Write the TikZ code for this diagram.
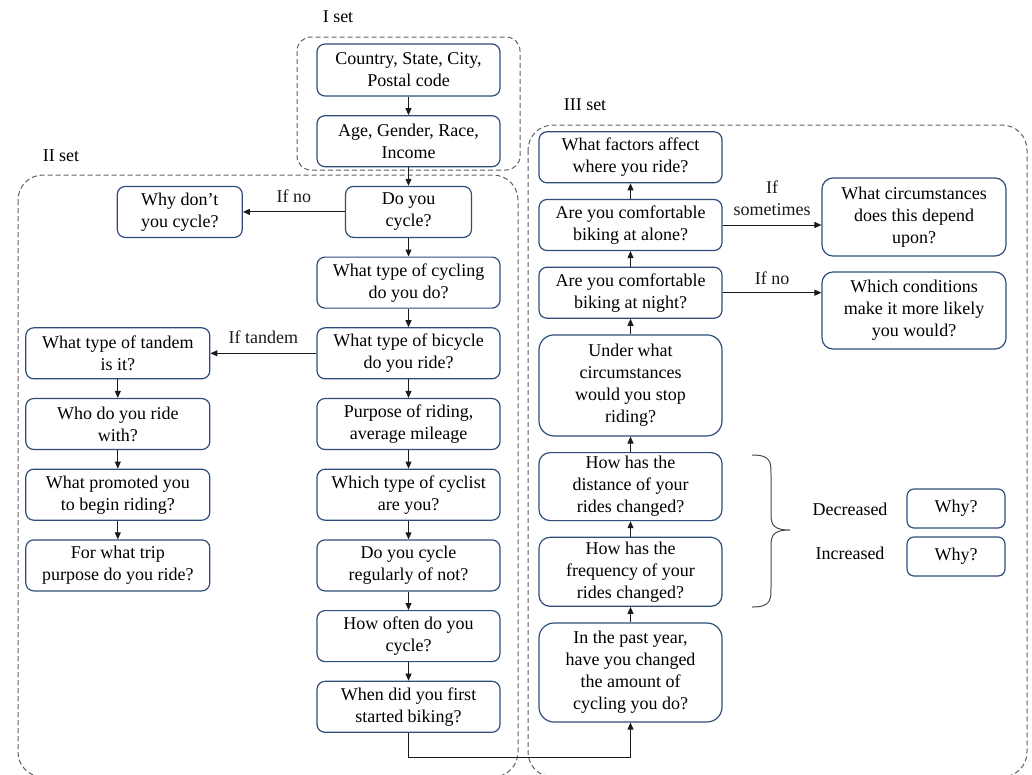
\documentclass[tikz,border=0pt]{standalone}
\usepackage{fontspec}
\setmainfont{Liberation Serif}
\usetikzlibrary{arrows.meta, positioning}
\definecolor{BoxColor}{HTML}{2E4D7B}
\definecolor{SetColor}{HTML}{5F5F5F}
\definecolor{LineColor}{HTML}{1A1A1A}

\begin{document}
\begin{tikzpicture}[
    x=1pt, y=-1pt,
    node distance=18.5pt and 100pt,
    q/.style={rectangle, draw=BoxColor, line width=1.2pt, rounded corners=8pt, minimum width=183pt, minimum height=51pt, align=center, inner sep=2pt, font=\fontsize{18}{22}\selectfont},
    qmid/.style={q, rounded corners=11pt, minimum height=68pt},
    qtall/.style={q, rounded corners=15pt, minimum height=100pt},
    lbl/.style={font=\fontsize{18}{22}\selectfont, inner sep=2pt, align=center},
    arr/.style={-{Triangle[length=7pt, width=6pt]}, line width=1pt, LineColor},
    setbox/.style={draw=SetColor, line width=1pt, dash pattern=on 5pt off 3pt, rounded corners=25pt}
  ]
  \useasboundingbox (0,0) rectangle (1032,774);

  % I set
  \node[q, minimum height=52pt] (loc) at (408.5,70) {Country, State, City,\\Postal code};
  \node[q, below=of loc] (demo) {Age, Gender, Race,\\Income};

  % II set
  \node[q, minimum width=126pt, below=of demo] (cycle) {Do you\\cycle?};
  \node[q, below=of cycle] (kind) {What type of cycling\\do you do?};
  \node[q, below=of kind] (bike) {What type of bicycle\\do you ride?};
  \node[q, below=of bike] (purpose) {Purpose of riding,\\average mileage};
  \node[q, below=of purpose] (cyclist) {Which type of cyclist\\are you?};
  \node[q, below=of cyclist] (regular) {Do you cycle\\regularly of not?};
  \node[q, below=of regular] (often) {How often do you\\cycle?};
  \node[q, below=of often] (start) {When did you first\\started biking?};
  \node[q, minimum width=125pt, left=102pt of cycle] (whynot) {Why don’t\\you cycle?};
  \node[q, minimum width=184pt, left=106pt of bike] (tandem) {What type of tandem\\is it?};
  \node[q, minimum width=184pt, below=of tandem] (partner) {Who do you ride\\with?};
  \node[q, minimum width=184pt, below=of partner] (promoted) {What promoted you\\to begin riding?};
  \node[q, minimum width=184pt, below=of promoted] (trip) {For what trip\\purpose do you ride?};

  % III set
  \node[qtall, minimum height=99pt] (past) at (630.5,672.5) {In the past year,\\have you changed\\the amount of\\cycling you do?};
  \node[qmid, minimum height=69pt, above=15.5pt of past] (freq) {How has the\\frequency of your\\rides changed?};
  \node[qmid, above=15.5pt of freq] (dist) {How has the\\distance of your\\rides changed?};
  \node[qtall, minimum height=101pt, above=15.5pt of dist] (stop) {Under what\\circumstances\\would you stop\\riding?};
  \node[q, above=15.5pt of stop] (night) {Are you comfortable\\biking at night?};
  \node[q, above=15.5pt of night] (alone) {Are you comfortable\\biking at alone?};
  \node[q, above=15.5pt of alone] (factors) {What factors affect\\where you ride?};
  \node[qmid, minimum width=184pt, minimum height=78pt] (depend) at (914,217) {What circumstances\\does this depend\\upon?};
  \node[qmid, minimum width=184pt, minimum height=77pt] (likely) at (914,310.5) {Which conditions\\make it more likely\\you would?};
  \node[q, minimum width=98pt, minimum height=39pt, rounded corners=7pt] (whydec) at (956,508.5) {Why?};
  \node[q, minimum width=98pt, minimum height=39pt, rounded corners=7pt] (whyinc) at (956,556.5) {Why?};
  \node[lbl] (dec) at (850,509) {Decreased};
  \node[lbl] (inc) at (850,553) {Increased};

  % set frames
  \node[lbl] (setI) at (338,17) {I set};
  \node[lbl] (setII) at (61,156) {II set};
  \node[lbl] (setIII) at (585,105) {III set};
  \draw[setbox, rounded corners=14pt] (297,37) rectangle (520,170);
  \begin{scope}
    \clip (0,0) rectangle (1032,774);
    \draw[setbox] (18,175) rectangle (518,777);
    \draw[setbox] (528,125) rectangle (1027,777);
  \end{scope}

  \draw[arr] (loc) -- (demo);
  \draw[arr] (demo) -- (cycle);
  \draw[arr] (cycle) -- node[lbl, above=7pt] {If no} (whynot);
  \draw[arr] (cycle) -- (kind);
  \draw[arr] (kind) -- (bike);
  \draw[arr] (bike) -- node[lbl, above=7pt] {If tandem} (tandem);
  \draw[arr] (bike) -- (purpose);
  \draw[arr] (purpose) -- (cyclist);
  \draw[arr] (cyclist) -- (regular);
  \draw[arr] (regular) -- (often);
  \draw[arr] (often) -- (start);
  \draw[arr] (tandem) -- (partner);
  \draw[arr] (partner) -- (promoted);
  \draw[arr] (promoted) -- (trip);
  \draw[arr] (start.south) -- ++(0,25) -| (past);
  \draw[arr] (past) -- (freq);
  \draw[arr] (freq) -- (dist);
  \draw[arr] (dist) -- (stop);
  \draw[arr] (stop) -- (night);
  \draw[arr] (night) -- (alone);
  \draw[arr] (alone) -- (factors);
  \draw[arr] (alone.east) -- node[lbl, above=7pt] {If\\sometimes} (alone.east -| depend.west);
  \draw[arr] (night.east) -- node[lbl, above=6pt] {If no} (night.east -| likely.west);

  % brace
  \draw[LineColor!80, line width=1pt] (752,455) .. controls (771,455) and (771,462) .. (771,475) -- (771,515)
    .. controls (771,526) and (775,530) .. (790,530) .. controls (775,530) and (771,534) .. (771,545)
    -- (771,587) .. controls (771,600) and (771,607) .. (752,607);
\end{tikzpicture}
\end{document}
